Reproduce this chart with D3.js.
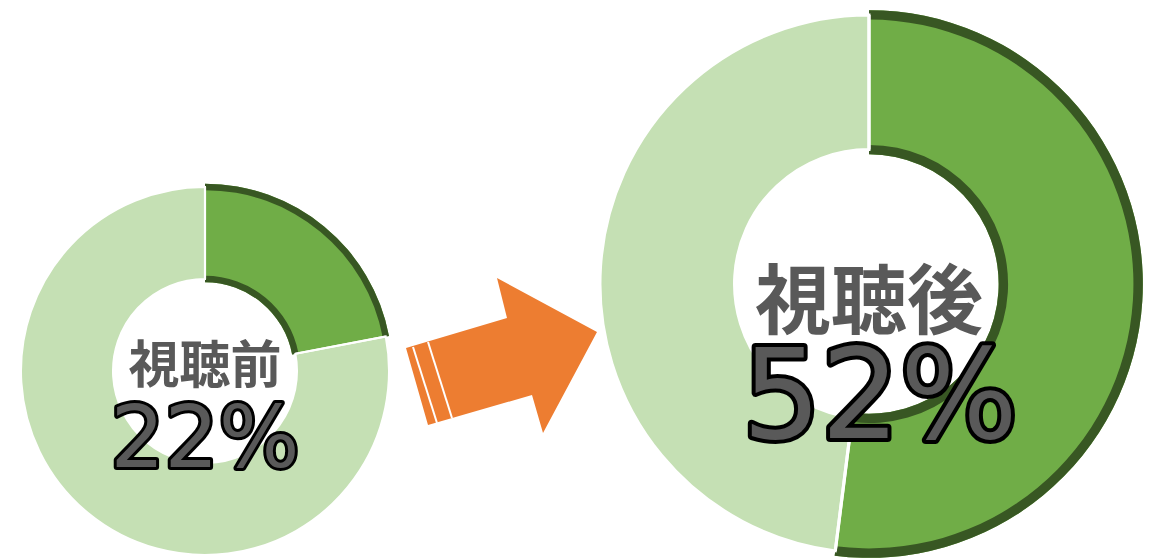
<!DOCTYPE html>
<html>
<head>
<meta charset="utf-8">
<script src="https://cdn.jsdelivr.net/npm/d3@7"></script>
<style>
  html, body { margin: 0; padding: 0; background: #ffffff; }
  svg { display: block; }
</style>
</head>
<body>
<div id="chart"></div>
<script>
// data
const labels = ['視聴前', '視聴後'];
const percents = [22, 52];

// layout for each donut (positions only)
const layout = [
  { cx: 205, cy: 371, R: 184, labelY: 361, labelSize: 51, pctY: 467, pctDx: 0, pctSize: 85, pctStroke: 6 },
  { cx: 869, cy: 284, R: 269, labelY: 295, labelSize: 76, pctY: 438, pctDx: 11, pctSize: 124, pctStroke: 8 }
];

const width = 1158;
const height = 559;

const colors = {
  main: '#70ad47',
  rest: '#c5e0b4',
  border: '#385723',
  label: '#595959',
  pctFill: '#595959',
  arrow: '#ed7d31'
};

const svg = d3.select('#chart')
  .append('svg')
  .attr('width', width)
  .attr('height', height)
  .attr('viewBox', '0 0 ' + width + ' ' + height);

const pie = d3.pie().sort(null).value(d => d);

labels.forEach((label, i) => {
  const l = layout[i];
  const R = l.R;
  const r = R * 0.5;
  const grow = R * 0.018;
  const band = R * 0.035;
  const slices = pie([percents[i], 100 - percents[i]]);
  const main = slices[0];
  const rest = slices[1];

  const g = svg.append('g')
    .attr('transform', 'translate(' + l.cx + ',' + l.cy + ')');

  // main slice, a bit larger than the ring
  g.append('path')
    .attr('d', d3.arc().innerRadius(r - grow).outerRadius(R + grow)(main))
    .attr('fill', colors.main);

  // dark rim on outer and inner edge
  g.append('path')
    .attr('d', d3.arc().innerRadius(R + grow - band).outerRadius(R + grow)(main))
    .attr('fill', colors.border);
  g.append('path')
    .attr('d', d3.arc().innerRadius(r - grow).outerRadius(r - grow + band)(main))
    .attr('fill', colors.border);

  // rest of the ring
  g.append('path')
    .attr('d', d3.arc().innerRadius(r).outerRadius(R)(rest))
    .attr('fill', colors.rest)
    .attr('stroke', '#ffffff')
    .attr('stroke-width', R * 0.011);

  // white separators on the slice edges
  [main.startAngle, main.endAngle].forEach(a => {
    g.append('line')
      .attr('x1', Math.sin(a) * r)
      .attr('y1', -Math.cos(a) * r)
      .attr('x2', Math.sin(a) * R)
      .attr('y2', -Math.cos(a) * R)
      .attr('stroke', '#ffffff')
      .attr('stroke-width', R * 0.012);
  });

  svg.append('text')
    .attr('x', l.cx)
    .attr('y', l.labelY)
    .attr('text-anchor', 'middle')
    .attr('dominant-baseline', 'central')
    .style('font-family', '"Noto Sans CJK JP", sans-serif')
    .style('font-weight', 'bold')
    .style('font-size', l.labelSize + 'px')
    .style('fill', colors.label)
    .text(label);

  svg.append('text')
    .attr('x', l.cx + l.pctDx)
    .attr('y', l.pctY)
    .attr('text-anchor', 'middle')
    .style('font-family', '"DejaVu Sans", sans-serif')
    .style('font-size', l.pctSize + 'px')
    .style('fill', colors.pctFill)
    .style('stroke', '#000000')
    .style('stroke-width', l.pctStroke)
    .style('stroke-linejoin', 'round')
    .style('paint-order', 'stroke')
    .text(percents[i] + '%');
});

// arrow between the two donuts (shape in its own frame)
const arrow = svg.append('g')
  .attr('transform', 'translate(406,348)');
arrow.append('path')
  .attr('d', 'M0,0 L101,-30 L91,-70 L191,-16 L137,85 L126,47 L22,77 Z')
  .attr('fill', colors.arrow);
[[7, -1, 31, 75], [22, -6, 46, 70]].forEach(s => {
  arrow.append('line')
    .attr('x1', s[0]).attr('y1', s[1])
    .attr('x2', s[2]).attr('y2', s[3])
    .attr('stroke', '#ffffff')
    .attr('stroke-width', 2);
});
</script>
</body>
</html>
